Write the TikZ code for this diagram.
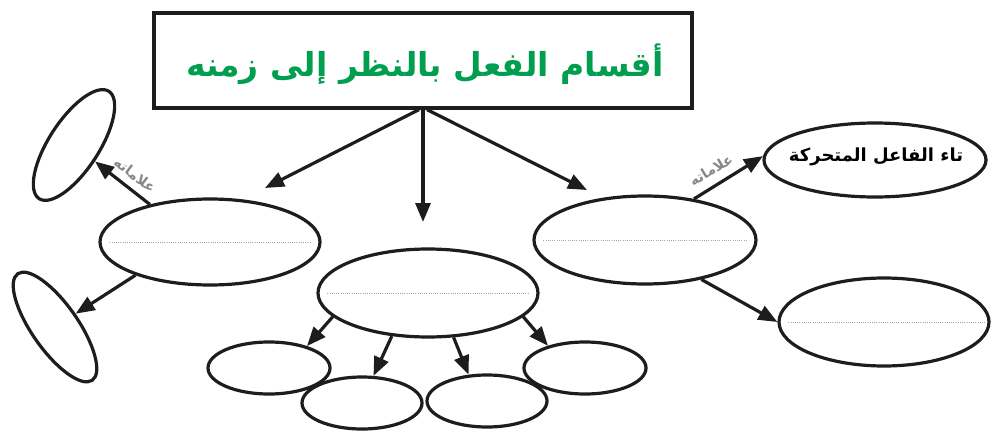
\documentclass[tikz,border=0pt]{standalone}
\usepackage{fontspec}
\newfontfamily\arabicfont[Script=Arabic]{DejaVu Sans}
\TeXXeTstate=1
\usetikzlibrary{shapes.geometric,arrows.meta,calc}
\definecolor{titlegreen}{RGB}{0,158,78}
\definecolor{labelgray}{RGB}{135,135,135}
\definecolor{dotgray}{RGB}{165,165,165}
\definecolor{inkblack}{RGB}{30,28,28}
\tikzset{
  oval/.style={ellipse, draw=inkblack, line width=3.2pt, inner sep=0pt},
  arr/.style={line width=3.2pt, draw=inkblack, -{Triangle[length=19pt,width=15pt]}},
  dotline/.style={dotgray, line width=0.9pt, dash pattern=on 1pt off 1.2pt},
  lbl/.style={text=labelgray, font=\arabicfont\bfseries\fontsize{14}{14}\selectfont, inner sep=0pt},
}
\begin{document}
\begin{tikzpicture}[x=1pt,y=-1pt]
\useasboundingbox (0,0) rectangle (993,431);
% title
\node[draw=inkblack, line width=3.2pt, minimum width=538pt, minimum height=95pt, inner sep=0pt] (T) at (423,60.5) {};
\node[text=titlegreen, inner sep=0pt, font=\arabicfont\bfseries\fontsize{33}{36}\selectfont] (Tt) at (425,64)
      {\beginR أقسام الفعل بالنظر إلى زمنه\endR};
% main ellipses
\node[oval, minimum width=220pt, minimum height=86pt] (L) at (210,242) {};
\node[oval, minimum width=220pt, minimum height=88pt] (C) at (428,293) {};
\node[oval, minimum width=222pt, minimum height=88pt] (R) at (645,240) {};
% side ellipses
\node[oval, minimum width=128pt, minimum height=50pt, rotate=57] (TL) at (74,145) {};
\node[oval, minimum width=130pt, minimum height=46pt, rotate=-55] (BL) at (55,327) {};
\node[oval, minimum width=222pt, minimum height=74pt] (TR) at (875,160) {};
\node[inner sep=0pt, font=\arabicfont\bfseries\fontsize{18}{20}\selectfont] (TRt) at (876,157)
      {\beginR تاء الفاعل المتحركة\endR};
\node[oval, minimum width=210pt, minimum height=88pt] (BR) at (884,322) {};
% bottom small ellipses
\node[oval, minimum width=122pt, minimum height=52pt] (A) at (269,368) {};
\node[oval, minimum width=120pt, minimum height=52pt] (B) at (362,403) {};
\node[oval, minimum width=120pt, minimum height=52pt] (D) at (487,401) {};
\node[oval, minimum width=122pt, minimum height=52pt] (E) at (585,368) {};
% dotted lines
\draw[dotline] ($(L.west)+(11,0)$) -- ($(L.east)+(-11,0)$);
\draw[dotline] ($(C.west)+(11,0)$) -- ($(C.east)+(-11,0)$);
\draw[dotline] ($(R.west)+(11,0)$) -- ($(R.east)+(-11,0)$);
\draw[dotline] ($(BR.west)+(11,0)$) -- ($(BR.east)+(-6,0)$);
% arrows from title
\coordinate (tL) at (265,188);
\coordinate (tC) at (423,222);
\coordinate (tR) at (587,190);
\draw[arr] ($(T.south)+(-4,0)$) -- (tL);
\draw[arr] (T.south) -- (tC);
\draw[arr] ($(T.south)+(4,0)$) -- (tR);
% left branch
\draw[arr] (L.148) -- (TL);
\draw[arr] (L.204) -- (BL);
% centre branch
\draw[arr] (C.194) -- (A.30);
\draw[arr] (C.230) -- (B.67);
\draw[arr] (C.-60) -- (D.125);
\draw[arr] (C.-14) -- (E.149);
% right branch
\draw[arr] (R.40.5) -- (TR.178);
\draw[arr] (R.-35) -- (BR.180);
% labels
\node[lbl, rotate=-37] (lab1) at (135,175) {\beginR علاماته\endR};
\node[lbl, rotate=31] (lab2) at (711,170) {\beginR علاماته\endR};
\end{tikzpicture}
\end{document}
